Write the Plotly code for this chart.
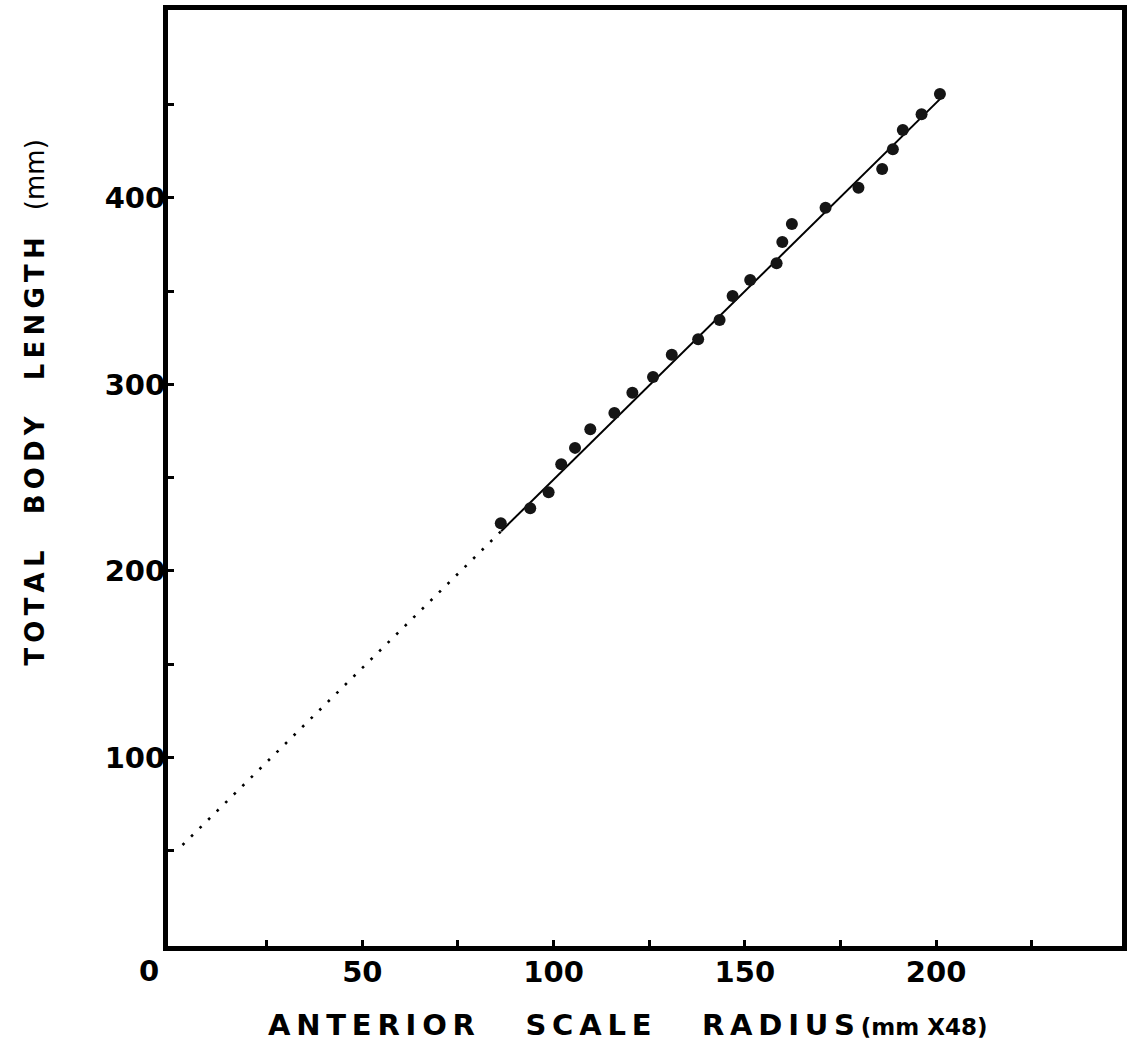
import plotly.graph_objects as go

# ---- data ----
scale_radius = [86.2, 93.9, 98.7, 102.0, 105.6, 109.6, 115.9, 120.6, 126.0, 130.9,
                137.8, 143.4, 146.8, 151.4, 158.3, 159.8, 162.3, 171.1, 179.7, 185.9,
                188.7, 191.3, 196.2, 201.0]
body_length = [225.6, 233.6, 242.2, 257.2, 266.0, 276.0, 284.7, 295.6, 304.0, 316.0,
               324.2, 334.6, 347.4, 356.0, 365.0, 376.4, 386.1, 394.8, 405.5, 415.5,
               426.1, 436.5, 444.9, 455.8]

# regression line  L = a + b * R
intercept = 47.0
slope = 2.02
fit_x_solid = [86.3, 201.8]
fit_x_dotted = [3.0, 86.3]

x_tick_vals = [25, 50, 75, 100, 125, 150, 175, 200, 225]
x_tick_text = ["", "50", "", "100", "", "150", "", "200", ""]
y_tick_vals = [50, 100, 150, 200, 250, 300, 350, 400, 450]
y_tick_text = ["", "100", "", "200", "", "300", "", "400", ""]

FONT = "DejaVu Sans"
TS = "\u2009"   # thin space between letters
WS = "\u00a0" * 5  # word gap

def spaced(word):
    return TS.join(word)

fig = go.Figure()

fig.add_trace(go.Scatter(
    x=fit_x_dotted, y=[intercept + slope * v for v in fit_x_dotted],
    mode="lines", line=dict(color="black", width=2.6, dash="2.6px,9.4px"),
    hoverinfo="skip", showlegend=False))

fig.add_trace(go.Scatter(
    x=fit_x_solid, y=[intercept + slope * v for v in fit_x_solid],
    mode="lines", line=dict(color="black", width=2),
    hoverinfo="skip", showlegend=False))

fig.add_trace(go.Scatter(
    x=scale_radius, y=body_length, mode="markers",
    marker=dict(size=12, color="#151515", line=dict(width=0)),
    showlegend=False))

# "0" label at the origin, set slightly left as in the reference
fig.add_annotation(x=0, y=0, xref="x", yref="y", text="0", showarrow=False,
                   xanchor="center", yanchor="top", xshift=-22, yshift=-8,
                   font=dict(family=FONT, size=29, color="black", weight="bold"))

fig.add_annotation(
    xref="paper", yref="paper", x=0.482, y=-0.0844,
    text=spaced("ANTERIOR") + WS + spaced("SCALE") + WS + spaced("RADIUS")
         + "\u2009<span style='font-size:23px'>(mm\u00a0X48)</span>",
    showarrow=False, xanchor="center", yanchor="middle",
    font=dict(family=FONT, size=29, color="black", weight="bold"))

fig.add_annotation(
    xref="paper", yref="paper", x=-0.139, y=0.581,
    text=spaced("TOTAL") + "\u00a0" * 4 + spaced("BODY") + "\u00a0" * 4 + spaced("LENGTH")
         + "\u00a0\u00a0\u00a0<span style='font-size:26px;font-weight:normal'>(mm)</span>",
    textangle=-90, showarrow=False, xanchor="center", yanchor="middle",
    font=dict(family=FONT, size=26, color="black", weight="bold"))

fig.update_layout(
    width=1129, height=1058,
    margin=dict(l=168, r=2, t=10, b=112),
    paper_bgcolor="white", plot_bgcolor="white",
    font=dict(family=FONT, color="black"),
    xaxis=dict(range=[-0.8, 248.6], showgrid=False, zeroline=False,
               showline=True, linecolor="black", linewidth=5, mirror=True,
               ticks="inside", ticklen=6, tickwidth=3, tickcolor="black",
               tickvals=x_tick_vals, ticktext=x_tick_text,
               ticklabelstandoff=-4,
               tickfont=dict(family=FONT, size=29, color="black", weight="bold")),
    yaxis=dict(range=[-1.1, 500.8], showgrid=False, zeroline=False,
               showline=True, linecolor="black", linewidth=5, mirror=True,
               ticks="inside", ticklen=6, tickwidth=3, tickcolor="black",
               tickvals=y_tick_vals, ticktext=y_tick_text,
               ticklabelstandoff=-8,
               tickfont=dict(family=FONT, size=29, color="black", weight="bold")),
)

fig.write_html("out.html")
